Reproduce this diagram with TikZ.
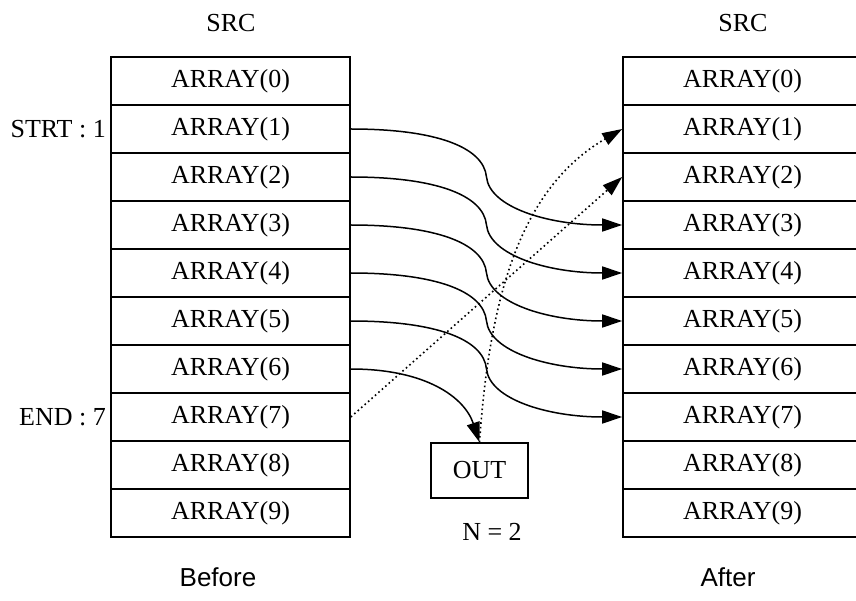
\documentclass[tikz,border=0pt]{standalone}
\usepackage{fontspec}
\setmainfont{Liberation Serif}
\newfontfamily\arialfont{Liberation Sans}
\usetikzlibrary{arrows.meta,calc}
\begin{document}
\begin{tikzpicture}[x=1pt,y=-1pt,
  cell/.style={draw,line width=1.6pt,minimum width=239pt,minimum height=48pt,inner sep=0pt,
    font=\fontsize{26}{30}\selectfont},
  lbl/.style={inner sep=0pt,font=\fontsize{26}{30}\selectfont},
  conn/.style={line width=1.5pt,-{Triangle[length=20pt,width=13pt]}},
  dotconn/.style={line width=1.6pt,dash pattern=on 1.6pt off 3pt,-{Triangle[length=20pt,width=13pt]}}]
\clip (0,0) rectangle (856,601);
\foreach \k in {0,...,9}{
  \node[cell] (l\k) at (230.5,{81+48*\k}) {ARRAY(\k)};
  \node[cell] (r\k) at (742.5,{81+48*\k}) {ARRAY(\k)};
}
\node[lbl] (srcl) at (231,23) {SRC};
\node[lbl] (srcr) at (743,23) {SRC};
\node[lbl,anchor=east] (strt) at (106,129) {STRT : 1};
\node[lbl,anchor=east] (endl) at (106,417) {END : 7};
\node[cell,minimum width=97pt,minimum height=55pt] (outb) at (479.5,470.5) {OUT};
\node[lbl] (nlbl) at (492,532) {N = 2};
\node[lbl,font=\arialfont\fontsize{26}{30}\selectfont] (before) at (218,577) {Before};
\node[lbl,font=\arialfont\fontsize{26}{30}\selectfont] (after) at (728,577) {After};
\foreach \i in {1,...,5}{
  \pgfmathtruncatemacro{\j}{\i+2}
  \draw[conn] (l\i.east) .. controls +(85,0) and +(-3,-30) .. ($(l\i.east)!0.5!(r\j.west)$)
     .. controls +(3,30) and +(-75,0) .. (r\j.west);
}
\draw[conn] (l6.east) .. controls +(75,0) and +(-15,-45) .. (outb.north);
\draw[dotconn] (outb.north) .. controls +(10,-143) and +(-103,60) .. (r1.west);
\draw[dotconn] (l7.east) -- (r2.west);
\end{tikzpicture}
\end{document}
